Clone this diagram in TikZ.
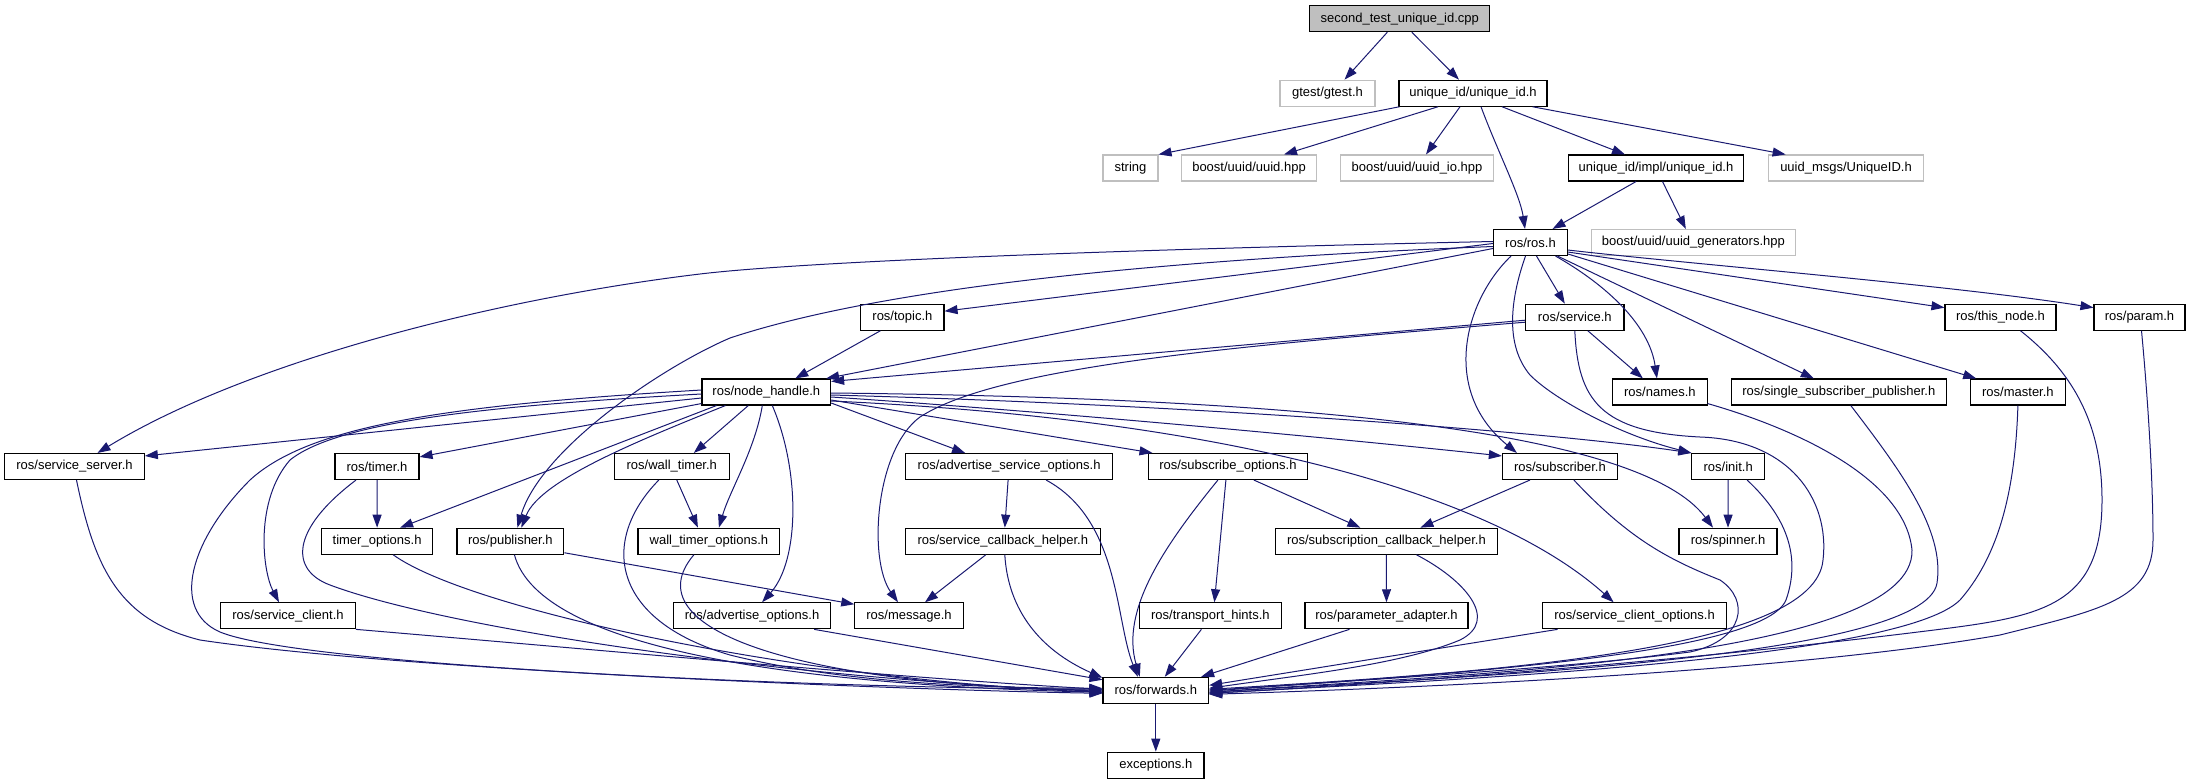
\documentclass[tikz,border=0pt]{standalone}
\usepackage{fontspec}
\setmainfont{Liberation Sans}
\usetikzlibrary{arrows.meta}
\definecolor{edgec}{HTML}{191970}
\definecolor{extc}{HTML}{BFBFBF}
\definecolor{rootc}{HTML}{BFBFBF}
\begin{document}
\begin{tikzpicture}[x=1pt,y=-1pt,
  box/.style={draw=black,line width=1.1pt,minimum height=26pt,inner sep=0pt,font=\fontsize{13}{15}\selectfont,text=black},
  extbox/.style={box,draw=extc},
  rootbox/.style={box,fill=rootc},
  edge/.style={draw=edgec,line width=1pt,-{Triangle[length=13pt,width=9pt]}}]
\useasboundingbox (0,0) rectangle (2189,784);
% row 1-4
\node[rootbox,minimum width=180pt] (root) at (1399.8,18.7) {second\_test\_unique\_id.cpp};
\node[extbox,minimum width=95pt] (gtest) at (1327.5,93.2) {gtest/gtest.h};
\node[box,minimum width=148pt] (uid) at (1473,93.2) {unique\_id/unique\_id.h};
\node[extbox,minimum width=55pt] (string) at (1130.5,168) {string};
\node[extbox,minimum width=135pt] (uuid) at (1249,168) {boost/uuid/uuid.hpp};
\node[extbox,minimum width=152.7pt] (uuidio) at (1417,168) {boost/uuid/uuid\_io.hpp};
\node[box,minimum width=175.5pt] (impl) at (1656,168) {unique\_id/impl/unique\_id.h};
\node[extbox,minimum width=155.7pt] (msgs) at (1846,168) {uuid\_msgs/UniqueID.h};
\node[box,minimum width=74pt] (ros) at (1530.5,242.5) {ros/ros.h};
\node[extbox,minimum width=203.3pt] (gen) at (1693.4,242.5) {boost/uuid/uuid\_generators.hpp};
% row 5-6
\node[box,minimum width=83.2pt] (topic) at (902.4,317.2) {ros/topic.h};
\node[box,minimum width=98.4pt] (service) at (1574.8,317.2) {ros/service.h};
\node[box,minimum width=111pt] (thisnode) at (2000.5,317.2) {ros/this\_node.h};
\node[box,minimum width=91pt] (param) at (2139.5,317.2) {ros/param.h};
\node[box,minimum width=128.6pt] (nh) at (766.3,392) {ros/node\_handle.h};
\node[box,minimum width=94.3pt] (names) at (1659.9,392) {ros/names.h};
\node[box,minimum width=215.5pt] (ssp) at (1838.8,392) {ros/single\_subscriber\_publisher.h};
\node[box,minimum width=94.3pt] (master) at (2017.9,392) {ros/master.h};
% row 7
\node[box,minimum width=139.6pt] (ssrv) at (74.5,466.5) {ros/service\_server.h};
\node[box,minimum width=84pt] (timer) at (377,466.5) {ros/timer.h};
\node[box,minimum width=114.5pt] (wtimer) at (671.8,466.5) {ros/wall\_timer.h};
\node[box,minimum width=207.2pt] (aso) at (1009.1,466.5) {ros/advertise\_service\_options.h};
\node[box,minimum width=159.7pt] (so) at (1227.9,466.5) {ros/subscribe\_options.h};
\node[box,minimum width=115pt] (sub) at (1559.9,466.5) {ros/subscriber.h};
\node[box,minimum width=72.7pt] (init) at (1728.2,466.5) {ros/init.h};
% row 8
\node[box,minimum width=110.8pt] (topt) at (377.1,541.2) {timer\_options.h};
\node[box,minimum width=106.8pt] (pub) at (510.4,541.2) {ros/publisher.h};
\node[box,minimum width=141.8pt] (wtopt) at (708.9,541.2) {wall\_timer\_options.h};
\node[box,minimum width=194.5pt] (sch) at (1002.8,541.2) {ros/service\_callback\_helper.h};
\node[box,minimum width=222.7pt] (subch) at (1386.4,541.2) {ros/subscription\_callback\_helper.h};
\node[box,minimum width=98pt] (spinner) at (1728,541.2) {ros/spinner.h};
% row 9
\node[box,minimum width=134.5pt] (sclient) at (288,615.8) {ros/service\_client.h};
\node[box,minimum width=157pt] (ao) at (752.1,615.8) {ros/advertise\_options.h};
\node[box,minimum width=108.4pt] (msg) at (909,615.8) {ros/message.h};
\node[box,minimum width=141.3pt] (th) at (1210.4,615.8) {ros/transport\_hints.h};
\node[box,minimum width=163pt] (pa) at (1386.5,615.8) {ros/parameter\_adapter.h};
\node[box,minimum width=184.4pt] (sco) at (1634.6,615.8) {ros/service\_client\_options.h};
% row 10-11
\node[box,minimum width=105.6pt] (fwd) at (1155.8,690.3) {ros/forwards.h};
\node[box,minimum width=96.4pt] (exc) at (1155.8,765.2) {exceptions.h};

% top part
\draw[edge] ([xshift=-12.5pt]root.south) -- ([xshift=17pt]gtest.north);
\draw[edge] ([xshift=12pt]root.south) -- ([xshift=-14pt]uid.north);
\draw[edge] ([xshift=1pt]uid.south west) -- (string.north east);
\draw[edge] ([xshift=-35pt]uid.south) -- ([xshift=35pt]uuid.north);
\draw[edge] ([xshift=-13pt]uid.south) -- ([xshift=9pt]uuidio.north);
\draw[edge] ([xshift=8pt]uid.south) .. controls (1497,150) and (1520,195) .. ([xshift=-5.5pt]ros.north);
\draw[edge] ([xshift=29pt]uid.south) -- ([xshift=-31pt]impl.north);
\draw[edge] ([xshift=-15pt]uid.south east) -- ([xshift=18pt]msgs.north west);
\draw[edge] ([xshift=-20pt]impl.south) -- ([xshift=22pt]ros.north);
\draw[edge] ([xshift=6.5pt]impl.south) -- ([xshift=-7.6pt]gen.north);

% ros.h
\draw[edge] ([xshift=6pt]ros.south) -- ([xshift=-10pt]service.north);
\draw[edge] ([xshift=25pt]ros.south) .. controls (1615,290) and (1650,330) .. ([xshift=-3pt]names.north);
\draw[edge] ([xshift=27pt]ros.south) -- ([xshift=-25pt]ssp.north);
\draw[edge] ([yshift=2pt]ros.south east) -- ([xshift=6pt]master.north west);
\draw[edge] ([yshift=4pt]ros.south east) -- ([yshift=-4pt]thisnode.north west);
\draw[edge] ([yshift=6pt]ros.south east) .. controls (1700,265) and (1950,285) .. ([yshift=-4pt]param.north west);
\draw[edge] ([yshift=-6pt]ros.west) -- ([xshift=-5pt]nh.north east);
\draw[edge] ([yshift=-1pt]ros.west) -- ([yshift=6pt]topic.east);
\draw[edge] ([yshift=1pt]ros.west) .. controls (1100,250) and (800,262) .. (700,274)
   .. controls (500,298) and (250,360) .. ([xshift=23pt]ssrv.north);
\draw[edge] ([yshift=-4pt]ros.west) .. controls (1100,262) and (860,295) .. (730,338)
   .. controls (660,368) and (540,450) .. ([xshift=7pt]pub.north);
\draw[edge] ([xshift=-19.5pt]ros.south) .. controls (1465,300) and (1440,390) .. ([xshift=-43pt]sub.north);
\draw[edge] ([xshift=-5pt]ros.south) .. controls (1510,300) and (1505,345) .. (1530,375)
   .. controls (1555,400) and (1620,435) .. (init.north west);

% service.h
\draw[edge] ([xshift=13pt]service.south) -- ([xshift=-17pt]names.north);
\draw[edge] ([yshift=-3pt]service.west) -- ([yshift=-3pt]nh.north east);
\draw[edge] ([yshift=-5pt]service.west) .. controls (1250,345) and (1000,365) .. (920,417)
   .. controls (875,450) and (868,560) .. ([xshift=-11pt]msg.north);
\draw[edge] (service.south) .. controls (1578,400) and (1600,432) .. (1700,437)
   .. controls (1790,440) and (1830,500) .. (1823,560)
   .. controls (1815,650) and (1500,672) .. ([yshift=1pt]fwd.east);

% topic
\draw[edge] ([xshift=-22pt]topic.south) -- ([xshift=29pt]nh.north);

% node_handle left
\draw[edge] ([yshift=-6pt]nh.west) -- ([yshift=-3pt]ssrv.north east);
\draw[edge] ([yshift=2pt]nh.south west) -- ([yshift=-4pt]timer.north east);
\draw[edge] ([xshift=15pt]nh.south west) -- ([xshift=23pt]topt.north);
\draw[edge] ([xshift=24pt]nh.south west) .. controls (640,440) and (540,480) .. ([xshift=11pt]pub.north);
\draw[edge] ([xshift=-18pt]nh.south) -- ([xshift=22pt]wtimer.north);
\draw[edge] ([xshift=-4pt]nh.south) .. controls (755,450) and (730,490) .. ([xshift=10pt]wtopt.north);
\draw[edge] ([xshift=6pt]nh.south) .. controls (800,470) and (800,560) .. ([xshift=10pt]ao.north);
\draw[edge] ([yshift=-2pt]nh.west) .. controls (500,405) and (340,420) .. (290,460)
   .. controls (255,500) and (262,570) .. ([xshift=-9pt]sclient.north);
\draw[edge] ([yshift=2pt]nh.west) .. controls (450,405) and (310,425) .. (250,480)
   .. controls (190,540) and (170,610) .. (220,632)
   .. controls (300,665) and (800,688) .. ([yshift=1pt]fwd.west);

% node_handle right
\draw[edge] ([yshift=-11pt]nh.east) -- ([xshift=-44pt]aso.north);
\draw[edge] ([yshift=-8pt]nh.east) -- ([xshift=5pt]so.north west);
\draw[edge] ([yshift=-5pt]nh.east) .. controls (1100,415) and (1400,445) .. ([yshift=-3pt]sub.north west);
\draw[edge] ([yshift=-3pt]nh.east) .. controls (1200,405) and (1550,432) .. (init.north west);
\draw[edge] ([yshift=-1pt]nh.east) .. controls (1300,398) and (1640,430) .. ([xshift=-15pt]spinner.north);
\draw[edge] ([yshift=-9pt]nh.east) .. controls (1250,420) and (1500,500) .. ([xshift=-21pt]sco.north);

% row 7 to lower
\draw[edge] ([xshift=2pt]ssrv.south) .. controls (95,570) and (120,620) .. (200,640)
   .. controls (400,670) and (900,690) .. ([yshift=-3pt]fwd.west);
\draw[edge] (timer.south) -- (topt.north);
\draw[edge] ([xshift=-21pt]timer.south) .. controls (290,530) and (290,570) .. (330,585)
   .. controls (450,630) and (800,680) .. ([yshift=-1pt]fwd.west);
\draw[edge] ([xshift=5pt]wtimer.south) -- ([xshift=-11pt]wtopt.north);
\draw[edge] ([xshift=-13pt]wtimer.south) .. controls (600,540) and (610,620) .. (730,655)
   .. controls (850,685) and (1000,688) .. ([yshift=2pt]fwd.west);
\draw[edge] ([xshift=-1pt]aso.south) -- ([xshift=2pt]sch.north);
\draw[edge] ([xshift=37pt]aso.south) .. controls (1120,520) and (1115,620) .. ([xshift=-18pt]fwd.north);
\draw[edge] ([xshift=-2pt]so.south) -- ([xshift=4pt]th.north);
\draw[edge] ([xshift=26pt]so.south) -- ([xshift=-26pt]subch.north);
\draw[edge] ([xshift=-10pt]so.south) .. controls (1165,545) and (1120,610) .. ([xshift=-16pt]fwd.north);
\draw[edge] ([xshift=-30pt]sub.south) -- ([xshift=34pt]subch.north);
\draw[edge] ([xshift=14pt]sub.south) .. controls (1630,540) and (1670,560) .. (1720,580)
   .. controls (1750,600) and (1745,640) .. (1690,652)
   .. controls (1550,670) and (1350,680) .. ([yshift=-1pt]fwd.east);
\draw[edge] (init.south) -- (spinner.north);
\draw[edge] ([xshift=-18pt]init.south east) .. controls (1790,520) and (1800,560) .. (1786,600)
   .. controls (1765,650) and (1500,672) .. ([yshift=0pt]fwd.east);

% row 6 right to forwards
\draw[edge] ([yshift=2pt]names.south east) .. controls (1800,430) and (1905,480) .. (1912,550)
   .. controls (1915,660) and (1450,675) .. ([yshift=-2pt]fwd.east);
\draw[edge] ([xshift=12pt]ssp.south) .. controls (1900,470) and (1945,530) .. (1937,583)
   .. controls (1925,660) and (1450,677) .. ([yshift=-2pt]fwd.east);
\draw[edge] (master.south) .. controls (2015,500) and (1995,560) .. (1960,600)
   .. controls (1900,660) and (1450,680) .. ([yshift=-3pt]fwd.east);
\draw[edge] ([xshift=20pt]thisnode.south) .. controls (2070,370) and (2102,420) .. (2102,500)
   .. controls (2102,600) and (2050,615) .. (1950,628)
   .. controls (1700,660) and (1400,683) .. ([yshift=-3pt]fwd.east);
\draw[edge] ([xshift=2pt]param.south) .. controls (2148,400) and (2153,480) .. (2153,540)
   .. controls (2153,600) and (2100,610) .. (2000,635)
   .. controls (1800,670) and (1450,687) .. ([yshift=-4pt]fwd.east);

% row 8
\draw[edge] ([xshift=16pt]topt.south) .. controls (470,610) and (800,680) .. ([yshift=-2pt]fwd.west);
\draw[edge] ([yshift=2pt]pub.south east) -- ([yshift=-2pt]msg.north west);
\draw[edge] ([xshift=4pt]pub.south) .. controls (540,650) and (800,685) .. ([yshift=-2pt]fwd.west);
\draw[edge] ([xshift=-15pt]wtopt.south) .. controls (630,630) and (800,685) .. ([yshift=0pt]fwd.west);
\draw[edge] ([xshift=-17pt]sch.south) -- ([xshift=16pt]msg.north);
\draw[edge] ([xshift=2pt]sch.south) .. controls (1008,610) and (1040,650) .. ([yshift=-1pt]fwd.north west);
\draw[edge] (subch.south) -- (pa.north);
\draw[edge] ([xshift=30pt]subch.south) .. controls (1465,580) and (1500,620) .. (1460,640)
   .. controls (1400,665) and (1300,675) .. ([yshift=2pt]fwd.east);

% row 9
\draw[edge] (sclient.south east) .. controls (600,650) and (900,678) .. ([yshift=1pt]fwd.west);
\draw[edge] ([xshift=62pt]ao.south) -- ([yshift=-3pt]fwd.north west);
\draw[edge] ([xshift=-9pt]th.south) -- ([xshift=9pt]fwd.north);
\draw[edge] ([xshift=-37pt]pa.south) -- ([xshift=-8pt]fwd.north east);
\draw[edge] ([xshift=-77pt]sco.south) -- ([yshift=5pt]fwd.east);

\draw[edge] (fwd.south) -- (exc.north);
\end{tikzpicture}
\end{document}
